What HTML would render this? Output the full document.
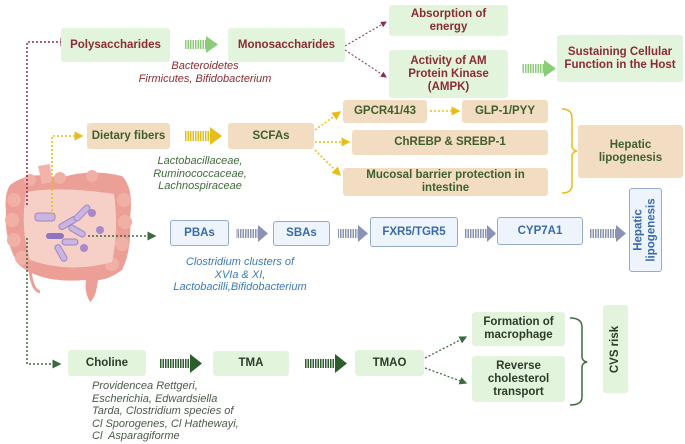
<!DOCTYPE html><html><head><meta charset="utf-8"><style>
body{margin:0;width:685px;height:444px;background:#fff;position:relative;overflow:hidden;font-family:"Liberation Sans",sans-serif}
.b{position:absolute;display:flex;align-items:center;justify-content:center;text-align:center;font-weight:bold;font-size:11.5px;line-height:13px;border-radius:3px;box-sizing:border-box}
.g{background:#e3f4dc;color:#8c2b32}
.t{background:#f2ddc2;color:#3f5f2c}
.u{background:#edf4fc;border:1.5px solid #95abcc;color:#3b6aa8}
.c{background:#e3f4dc;color:#2d3b2a}
.i{position:absolute;font-style:italic;font-size:11px;line-height:12.5px;text-align:center}
svg{position:absolute;left:0;top:0}
</style></head><body>
<svg width="685" height="444">
<defs>
<marker id="ap" markerWidth="6" markerHeight="6" refX="5" refY="3" orient="auto"><path d="M0,0L6,3L0,6z" fill="#8c2b5a"/></marker>
<marker id="ay" markerWidth="6" markerHeight="6" refX="5" refY="3" orient="auto"><path d="M0,0L6,3L0,6z" fill="#e6bd1a"/></marker>
<marker id="ag" markerWidth="6" markerHeight="6" refX="5" refY="3" orient="auto"><path d="M0,0L6,3L0,6z" fill="#3d6b3d"/></marker>
<pattern id="sg" width="2.5" height="10" patternUnits="userSpaceOnUse"><rect width="1.5" height="10" fill="#8ccc78"/></pattern>
<pattern id="sy" width="2.5" height="10" patternUnits="userSpaceOnUse"><rect width="1.5" height="10" fill="#e6bd1a"/></pattern>
<pattern id="sb" width="2.5" height="10" patternUnits="userSpaceOnUse"><rect width="1.5" height="10" fill="#8a93b5"/></pattern>
<pattern id="sd" width="2.5" height="10" patternUnits="userSpaceOnUse"><rect width="1.5" height="10" fill="#2f5c2f"/></pattern>
</defs>
<!-- intestine -->
<g>
<path d="M10,185 Q30,170 60,178 Q90,168 122,176 Q134,188 130,218 Q132,250 122,270 Q108,280 98,280 Q96,298 90,302 Q84,292 86,280 Q40,284 18,264 Q4,240 6,212 Q4,194 10,185z" fill="#ec9f96"/>
<g fill="#f0b0a6"><circle cx="14" cy="200" r="7"/><circle cx="12" cy="220" r="7"/><circle cx="14" cy="240" r="7"/><circle cx="22" cy="258" r="7"/><circle cx="124" cy="200" r="7"/><circle cx="125" cy="222" r="7"/><circle cx="122" cy="244" r="7"/><circle cx="112" cy="264" r="7"/><circle cx="30" cy="180" r="6"/><circle cx="60" cy="178" r="6"/><circle cx="92" cy="176" r="6"/></g>
<path d="M26,192 Q60,186 114,194 Q119,230 112,262 Q70,274 30,260 Q20,230 26,192z" fill="#f6cfc7"/>
<path d="M38,166 L50,164 L52,182 L42,184z" fill="#f2b4aa"/>
<path d="M30,270 Q32,290 40,292" fill="none" stroke="#ec9f96" stroke-width="3"/>
<rect x="35" y="213" width="20" height="8" rx="3" fill="#c9b5e0" stroke="#9d86c7"/>
<rect x="58" y="220" width="20" height="6" rx="3" fill="#c9b5e0" stroke="#9d86c7" transform="rotate(-30 68 223)"/>
<rect x="72" y="210" width="20" height="6" rx="3" fill="#c9b5e0" stroke="#9d86c7" transform="rotate(-45 82 213)"/>
<rect x="68" y="228" width="18" height="6" rx="3" fill="#c9b5e0" stroke="#9d86c7" transform="rotate(30 77 231)"/>
<rect x="46" y="233" width="18" height="6" rx="3" fill="#8f75c0"/>
<rect x="62" y="239" width="16" height="6" rx="3" fill="#c9b5e0" stroke="#9d86c7"/>
<rect x="52" y="250" width="18" height="6" rx="3" fill="#c9b5e0" stroke="#9d86c7" transform="rotate(60 61 253)"/>
<circle cx="92" cy="213" r="4" fill="#a889c9"/><circle cx="100" cy="230" r="4" fill="#a889c9"/><circle cx="84" cy="248" r="4" fill="#a889c9"/>
</g>
<!-- purple -->
<path d="M27,205 L27,42 L68,42" fill="none" stroke="#8c2b5a" stroke-width="1.5" stroke-dasharray="2,2" marker-end="url(#ap)"/>
<path d="M345,46 L386,22" stroke="#8c2b5a" stroke-width="1" stroke-dasharray="2,2" marker-end="url(#ap)"/>
<path d="M345,50 L386,77" stroke="#8c2b5a" stroke-width="1" stroke-dasharray="2,2" marker-end="url(#ap)"/>
<!-- yellow -->
<path d="M52,215 L52,136 L82,136" fill="none" stroke="#e6bd1a" stroke-width="1.5" stroke-dasharray="2,2" marker-end="url(#ay)"/>
<path d="M315,130 L340,112" stroke="#e6bd1a" stroke-width="1.5" stroke-dasharray="2,2" marker-end="url(#ay)"/>
<path d="M315,142 L349,142" stroke="#e6bd1a" stroke-width="1.5" stroke-dasharray="2,2" marker-end="url(#ay)"/>
<path d="M315,150 L340,175" stroke="#e6bd1a" stroke-width="1.5" stroke-dasharray="2,2" marker-end="url(#ay)"/>
<path d="M430,111 L459,111" stroke="#e6bd1a" stroke-width="1.5" stroke-dasharray="2,2" marker-end="url(#ay)"/>
<path d="M562,109 Q572,109 572,118 L572,146 Q572,150 577,151 Q572,152 572,156 L572,185 Q572,193 562,193" fill="none" stroke="#e6bd1a" stroke-width="1.5"/>
<!-- green -->
<path d="M88,236 L155,236" stroke="#3d6b3d" stroke-width="1.5" stroke-dasharray="2,2" marker-end="url(#ag)"/>
<path d="M27,238 L27,364 L60,364" fill="none" stroke="#3d6b3d" stroke-width="1.5" stroke-dasharray="2,2" marker-end="url(#ag)"/>
<path d="M425,358 L466,337" stroke="#3d6b3d" stroke-width="1.3" stroke-dasharray="2,2" marker-end="url(#ag)"/>
<path d="M425,368 L466,383" stroke="#3d6b3d" stroke-width="1.3" stroke-dasharray="2,2" marker-end="url(#ag)"/>
<path d="M570,318 Q582,318 582,327 L582,357 Q582,361 587,362 Q582,363 582,367 L582,397 Q582,405 570,405" fill="none" stroke="#3d6b3d" stroke-width="1.5"/>
<!-- thick striped arrows -->
<g>
<rect x="184" y="40" width="22" height="9" fill="url(#sg)"/><path d="M206,36 L218,44.5 L206,53z" fill="#8ccc78"/>
<rect x="522" y="64" width="22" height="9" fill="url(#sg)"/><path d="M544,60 L556,68.5 L544,77z" fill="#8ccc78"/>
<rect x="185" y="131" width="25" height="10" fill="url(#sy)"/><path d="M210,127 L222,136 L210,145z" fill="#e6bd1a"/>
<rect x="236" y="229" width="22" height="9" fill="url(#sb)"/><path d="M258,225 L268,233.5 L258,242z" fill="#8a93b5"/>
<rect x="338" y="229" width="20" height="9" fill="url(#sb)"/><path d="M358,225 L368,233.5 L358,242z" fill="#8a93b5"/>
<rect x="465" y="229" width="22" height="9" fill="url(#sb)"/><path d="M487,225 L496,233.5 L487,242z" fill="#8a93b5"/>
<rect x="590" y="229" width="26" height="9" fill="url(#sb)"/><path d="M616,225 L626,233.5 L616,242z" fill="#8a93b5"/>
<rect x="160" y="359" width="30" height="9" fill="url(#sd)"/><path d="M190,354 L202,363.5 L190,373z" fill="#2f5c2f"/>
<rect x="305" y="359" width="30" height="9" fill="url(#sd)"/><path d="M335,354 L347,363.5 L335,373z" fill="#2f5c2f"/>
</g>
</svg>
<div class="b g" style="left:61px;top:28px;width:109px;height:34px">Polysaccharides</div>
<div class="b g" style="left:228px;top:28px;width:117px;height:34px">Monosaccharides</div>
<div class="b g" style="left:389px;top:5px;width:119px;height:31px">Absorption of<br>energy</div>
<div class="b g" style="left:389px;top:50px;width:119px;height:48px">Activity of AM<br>Protein Kinase<br>(AMPK)</div>
<div class="b g" style="left:557px;top:35px;width:126px;height:47px">Sustaining Cellular<br>Function in the Host</div>
<div class="i" style="left:120px;top:60px;width:170px;color:#8c2b32">Bacteroidetes<br>Firmicutes, Bifidobacterium</div>
<div class="b t" style="left:87px;top:123px;width:83px;height:26px">Dietary fibers</div>
<div class="b t" style="left:228px;top:123px;width:86px;height:26px">SCFAs</div>
<div class="b t" style="left:343px;top:100px;width:84px;height:23px">GPCR41/43</div>
<div class="b t" style="left:462px;top:100px;width:86px;height:23px">GLP-1/PYY</div>
<div class="b t" style="left:352px;top:130px;width:196px;height:25px">ChREBP &amp; SREBP-1</div>
<div class="b t" style="left:343px;top:168px;width:205px;height:28px">Mucosal barrier protection in<br>intestine</div>
<div class="b t" style="left:578px;top:125px;width:105px;height:53px">Hepatic<br>lipogenesis</div>
<div class="i" style="left:130px;top:155px;width:140px;color:#3f6a3a">Lactobacillaceae,<br>Ruminococcaceae,<br>Lachnospiraceae</div>
<div class="b u" style="left:170px;top:220px;width:59px;height:26px">PBAs</div>
<div class="b u" style="left:273px;top:221px;width:57px;height:25px">SBAs</div>
<div class="b u" style="left:370px;top:217px;width:88px;height:30px">FXR5/TGR5</div>
<div class="b u" style="left:497px;top:217px;width:86px;height:28px">CYP7A1</div>
<div class="b u" style="left:629px;top:188px;width:33px;height:84px"><span style="transform:rotate(-90deg);white-space:nowrap;display:block">Hepatic<br>lipogenesis</span></div>
<div class="i" style="left:155px;top:256px;width:170px;color:#3b7ab8">Clostridium clusters of<br>XVIa &amp; XI,<br>Lactobacilli,Bifidobacterium</div>
<div class="b c" style="left:68px;top:350px;width:78px;height:26px">Choline</div>
<div class="b c" style="left:213px;top:351px;width:76px;height:25px">TMA</div>
<div class="b c" style="left:355px;top:350px;width:69px;height:26px">TMAO</div>
<div class="b c" style="left:472px;top:312px;width:93px;height:34px">Formation of<br>macrophage</div>
<div class="b c" style="left:472px;top:356px;width:93px;height:46px">Reverse<br>cholesterol<br>transport</div>
<div class="b c" style="left:603px;top:305px;width:25px;height:88px"><span style="transform:rotate(-90deg);white-space:nowrap;display:block">CVS risk</span></div>
<div class="i" style="left:92px;top:380px;width:160px;text-align:left;color:#4a5a48">Providencea Rettgeri,<br>Escherichia, Edwardsiella<br>Tarda, Clostridium species of<br>Cl Sporogenes, Cl Hathewayi,<br>Cl&nbsp; Asparagiforme</div>
</body></html>
